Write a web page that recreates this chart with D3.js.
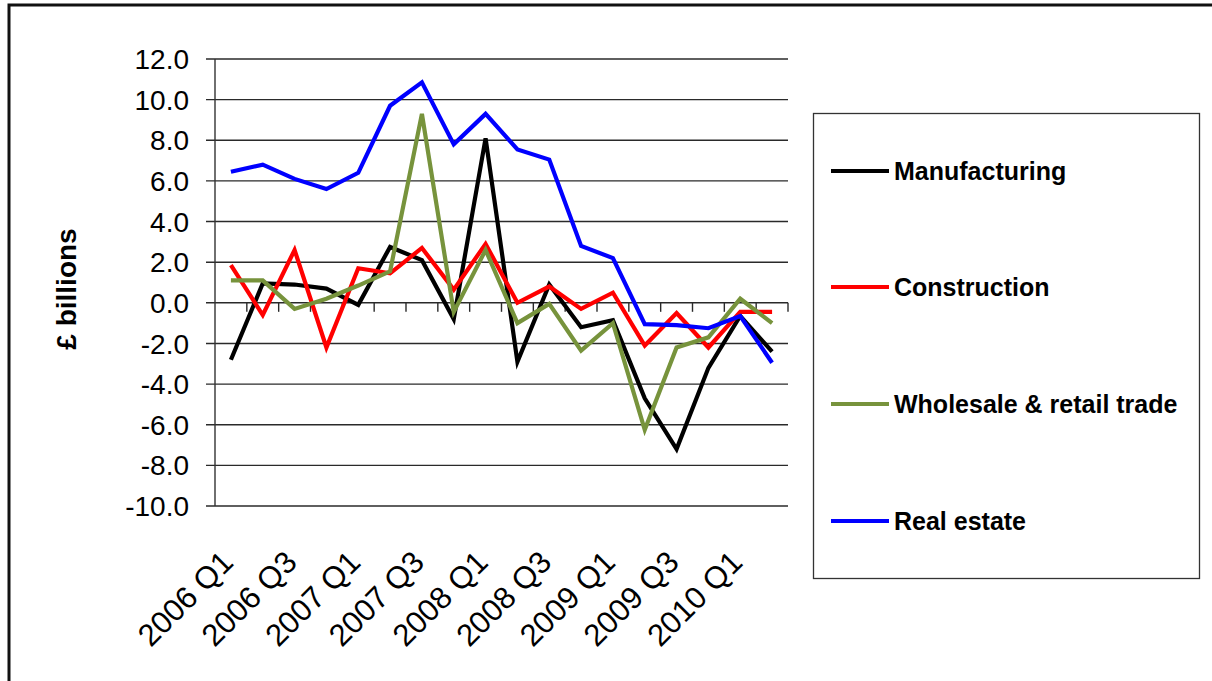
<!DOCTYPE html>
<html>
<head>
<meta charset="utf-8">
<script src="https://cdn.jsdelivr.net/npm/d3@7"></script>
<style>
  body { margin: 0; background: #fff; }
  text { font-family: "Liberation Sans", Arial, sans-serif; }
</style>
</head>
<body>
<div id="chart"></div>
<script>
// quarters 2006 Q1 .. 2010 Q2
var quarters = ["2006 Q1", "2006 Q2", "2006 Q3", "2006 Q4",
                "2007 Q1", "2007 Q2", "2007 Q3", "2007 Q4",
                "2008 Q1", "2008 Q2", "2008 Q3", "2008 Q4",
                "2009 Q1", "2009 Q2", "2009 Q3", "2009 Q4",
                "2010 Q1", "2010 Q2"];

var manufacturing = [-2.8, 0.95, 0.9, 0.7, -0.1, 2.75, 2.1, -0.8, 8.1, -2.9, 0.9, -1.2, -0.85, -4.7, -7.2, -3.2, -0.65, -2.4];
var construction  = [1.85, -0.6, 2.6, -2.2, 1.7, 1.45, 2.7, 0.65, 2.9, 0.0, 0.8, -0.3, 0.5, -2.1, -0.5, -2.2, -0.45, -0.45];
var wholesale     = [1.1, 1.1, -0.3, 0.2, 0.85, 1.55, 9.3, -0.45, 2.6, -1.0, -0.05, -2.35, -1.0, -6.25, -2.2, -1.7, 0.2, -1.0];
var realEstate    = [6.45, 6.8, 6.1, 5.6, 6.4, 9.7, 10.85, 7.8, 9.3, 7.55, 7.05, 2.8, 2.2, -1.05, -1.1, -1.25, -0.65, -2.95];

var seriesNames  = ["Manufacturing", "Construction", "Wholesale & retail trade", "Real estate"];
var seriesColors = ["#000000", "#ff0000", "#77933c", "#0000ff"];
var yTicks = [-10, -8, -6, -4, -2, 0, 2, 4, 6, 8, 10, 12];

var series = [manufacturing, construction, wholesale, realEstate];

var W = 1212, H = 681;
var plotLeft = 215, plotRight = 788, plotTop = 59, plotBottom = 506;

var svg = d3.select("#chart")
  .append("svg")
  .attr("width", W)
  .attr("height", H);

// outer frame (only top and left edges fall inside the picture)
svg.append("rect")
  .attr("x", 9).attr("y", 5)
  .attr("width", 1230).attr("height", 700)
  .attr("fill", "none")
  .attr("stroke", "#111")
  .attr("stroke-width", 3);

var x = d3.scaleBand()
  .domain(quarters)
  .range([plotLeft, plotRight])
  .padding(0);

var y = d3.scaleLinear()
  .domain([-10, 12])
  .range([plotBottom, plotTop]);

// gridlines
svg.append("g")
  .selectAll("line")
  .data(yTicks)
  .enter().append("line")
  .attr("x1", plotLeft - 9)
  .attr("x2", plotRight)
  .attr("y1", function(d) { return y(d); })
  .attr("y2", function(d) { return y(d); })
  .attr("stroke", "#2a2a2a")
  .attr("stroke-width", 1.4);

// y axis line
svg.append("line")
  .attr("x1", plotLeft).attr("x2", plotLeft)
  .attr("y1", plotTop).attr("y2", plotBottom)
  .attr("stroke", "#333")
  .attr("stroke-width", 1.4);

// y tick labels (plain hyphen for negatives, like the original)
svg.append("g")
  .selectAll("text")
  .data(yTicks)
  .enter().append("text")
  .attr("x", plotLeft - 26)
  .attr("y", function(d) { return y(d); })
  .attr("dy", "0.36em")
  .attr("text-anchor", "end")
  .attr("font-size", 28)
  .attr("fill", "#000")
  .text(function(d) { return d.toFixed(1); });

// category ticks on the zero line
var bounds = quarters.map(function(q) { return x(q); }).concat([plotRight]);
svg.append("g")
  .selectAll("line")
  .data(bounds.slice(1))
  .enter().append("line")
  .attr("x1", function(d) { return d; })
  .attr("x2", function(d) { return d; })
  .attr("y1", y(0))
  .attr("y2", y(0) + 9)
  .attr("stroke", "#2a2a2a")
  .attr("stroke-width", 1.4);

// x labels, every other quarter, rotated
svg.append("g")
  .selectAll("text")
  .data(quarters.filter(function(d, i) { return i % 2 === 0; }))
  .enter().append("text")
  .attr("text-anchor", "end")
  .attr("font-size", 31)
  .attr("transform", function(d) {
    return "translate(" + (x(d) + x.bandwidth() / 2 + 4) + ",564) rotate(-45)";
  })
  .text(function(d) { return d; });

// y axis title
svg.append("text")
  .attr("transform", "translate(76,289) rotate(-90)")
  .attr("text-anchor", "middle")
  .attr("font-size", 28)
  .attr("font-weight", "bold")
  .text("£ billions");

// lines
var line = d3.line()
  .x(function(d, i) { return x(quarters[i]) + x.bandwidth() / 2; })
  .y(function(d) { return y(d); });

svg.append("g")
  .selectAll("path")
  .data(series)
  .enter().append("path")
  .attr("d", line)
  .attr("fill", "none")
  .attr("stroke", function(d, i) { return seriesColors[i]; })
  .attr("stroke-width", 4.2)
  .attr("stroke-linejoin", "miter");

// legend
var legend = svg.append("g");
legend.append("rect")
  .attr("x", 813.5).attr("y", 113.5)
  .attr("width", 386).attr("height", 465)
  .attr("fill", "#fff")
  .attr("stroke", "#333")
  .attr("stroke-width", 1.3);

var legendY = [171, 287, 404, 521];
var items = legend.selectAll("g.item")
  .data(seriesNames)
  .enter().append("g")
  .attr("class", "item")
  .attr("transform", function(d, i) { return "translate(0," + legendY[i] + ")"; });

items.append("line")
  .attr("x1", 831).attr("x2", 889)
  .attr("y1", 0).attr("y2", 0)
  .attr("stroke", function(d, i) { return seriesColors[i]; })
  .attr("stroke-width", 4);

items.append("text")
  .attr("x", 894)
  .attr("dy", "0.36em")
  .attr("font-size", 25)
  .attr("font-weight", "bold")
  .text(function(d) { return d; });
</script>
</body>
</html>
